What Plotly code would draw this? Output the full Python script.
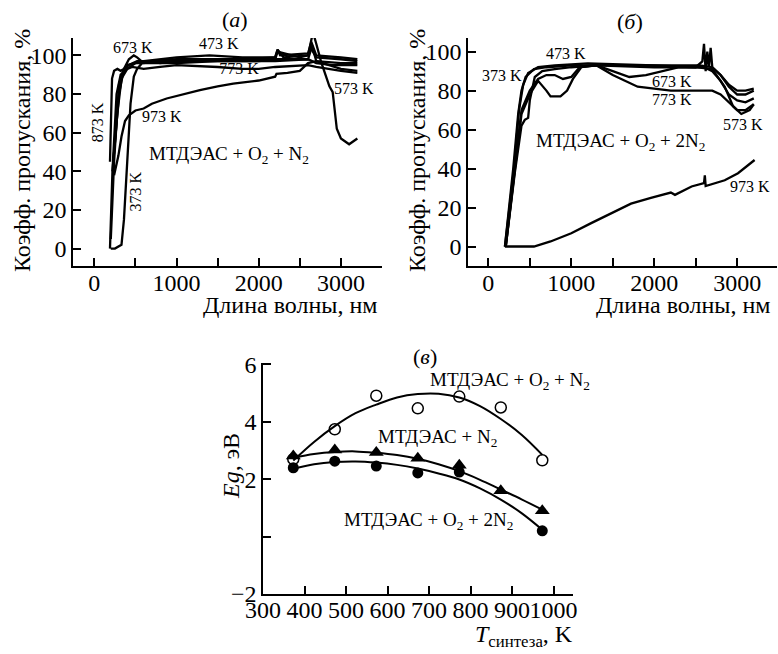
import plotly.graph_objects as go

FONT = "Liberation Serif"

# ---------------- Panel (а): МТДЭАС + O2 + N2 ----------------
a_373_wl = [200, 250, 330, 360, 400, 440, 480, 520, 600, 700, 800, 1000, 1400, 1800, 2200, 2230, 2300, 2600, 2630, 2700, 3000, 3200]
a_373_t = [0, 0, 2, 15, 45, 75, 89, 93, 97, 97, 96, 97, 98, 98, 99, 103, 99, 100, 104, 99, 98, 97]
a_473_wl = [190, 220, 270, 320, 400, 500, 600, 800, 1000, 1400, 1800, 2200, 2230, 2260, 2600, 2640, 2700, 3000, 3200]
a_473_t = [0, 40, 80, 90, 93, 96, 97, 98, 99, 100, 99, 99, 103, 100, 101, 107, 100, 99, 98]
a_573_wl = [200, 240, 300, 350, 420, 520, 700, 1000, 1500, 2000, 2200, 2230, 2500, 2600, 2660, 2700, 2760, 2860, 2900, 2950, 3000, 3100, 3200]
a_573_t = [5, 45, 85, 92, 95, 97, 97, 98, 98, 98, 98, 102, 99, 100, 112, 106, 96.5, 84, 81, 62, 57, 54, 57]
a_673_wl = [220, 260, 300, 360, 420, 480, 520, 600, 800, 1000, 1500, 2000, 2200, 2600, 2650, 2700, 3000, 3200]
a_673_t = [40, 60, 80, 93, 98, 100, 99, 96, 97, 97, 97, 97, 98, 98, 105, 97, 93, 92]
a_773_wl = [230, 280, 330, 400, 460, 600, 800, 1000, 1500, 1800, 2000, 2200, 2600, 2700, 3000, 3200]
a_773_t = [45, 70, 88, 93, 94, 93, 94, 95, 94, 93, 93, 94, 95, 94, 92, 91]
a_873_wl = [190, 200, 215, 240, 280, 320, 360, 400, 500, 700, 1000, 1500, 2000, 2200, 2600, 2700, 2900, 3200]
a_873_t = [45, 60, 88, 92, 93, 92, 93, 95, 96, 96, 96, 97, 97, 97, 98, 96, 95, 95]
a_973_wl = [240, 270, 292, 330, 373, 420, 500, 600, 700, 880, 1000, 1284, 1500, 1690, 2000, 2095, 2200, 2216, 2350, 2500, 2600, 2700, 3000, 3200]
a_973_t = [38, 43, 48, 58, 66, 69, 71.5, 72.5, 75, 77.7, 79, 82, 84, 85.4, 87, 88, 89, 90.5, 91, 92, 96, 97, 96, 96]

# ---------------- Panel (б): МТДЭАС + O2 + 2N2 ----------------
b_373_wl = [200, 300, 360, 400, 450, 550, 700, 1000, 1500, 2000, 2500, 2580, 2600, 2620, 2640, 2660, 2680, 2700, 2800, 2900, 3000, 3100, 3200]
b_373_t = [0, 40, 68, 80, 87, 91, 92, 93, 93, 93, 92, 95, 104, 90, 100, 92, 102, 92, 88, 83, 80, 80, 81]
b_473_wl = [200, 310, 370, 420, 480, 600, 800, 1200, 2000, 2550, 2700, 2800, 2900, 3000, 3100, 3200]
b_473_t = [0, 40, 70, 83, 89, 92, 93, 94, 93, 93, 92, 88, 82, 78, 78, 80]
b_573_wl = [210, 320, 400, 440, 480, 500, 560, 650, 800, 1000, 1300, 2000, 2500, 2700, 2850, 2950, 3050, 3150, 3200]
b_573_t = [0, 38, 62, 65, 66, 75, 87, 90, 91, 92, 93, 92, 92, 91, 82, 72, 68, 70, 73]
b_673_wl = [210, 320, 400, 500, 600, 700, 800, 900, 1000, 1100, 1300, 1500, 1700, 1900, 2100, 2300, 2600, 2700, 2800, 2900, 3000, 3100, 3200]
b_673_t = [0, 40, 70, 80, 86, 88, 88, 86, 87, 92, 93, 90, 87, 88, 90, 92, 92, 90, 85, 78, 75, 74, 76]
b_773_wl = [210, 320, 400, 500, 600, 700, 750, 870, 950, 1020, 1120, 1300, 1500, 1800, 2200, 2600, 2700, 2800, 2900, 3000, 3100, 3200]
b_773_t = [0, 40, 68, 78, 85, 80, 77, 77, 80, 86, 92, 93, 88, 82, 80, 80, 80, 78, 74, 70, 70, 73]
b_973_wl = [200, 550, 750, 1000, 1240, 1480, 1720, 1960, 2200, 2250, 2450, 2600, 2610, 2620, 2850, 3010, 3210]
b_973_t = [0, 0, 2.6, 6.8, 12, 17, 22, 25, 27.7, 26.5, 30.8, 32.5, 36.5, 31, 34, 37.6, 44.4]

# ---------------- Panel (в): Eg vs synthesis temperature ----------------
t_synth = [373, 473, 573, 673, 773, 873, 973]
eg_o2_n2 = [2.7, 3.74, 4.91, 4.47, 4.88, 4.5, 2.66]
eg_n2 = [2.81, 3.02, 2.93, 2.73, 2.49, 1.60, 0.9]
t_synth_2n2 = [373, 473, 573, 673, 773, 973]
eg_o2_2n2 = [2.40, 2.63, 2.46, 2.22, 2.25, 0.2]

fit_t = [373, 423, 473, 523, 573, 623, 673, 723, 773, 823, 873, 923, 973]
fit_o2_n2 = [2.65, 3.3, 3.85, 4.3, 4.6, 4.85, 4.97, 4.98, 4.85, 4.55, 4.1, 3.55, 2.85]
fit_n2 = [2.75, 2.88, 2.95, 2.97, 2.92, 2.84, 2.71, 2.52, 2.28, 1.98, 1.64, 1.3, 0.94]
fit_o2_2n2 = [2.36, 2.52, 2.6, 2.62, 2.58, 2.5, 2.37, 2.2, 1.99, 1.68, 1.29, 0.82, 0.24]

fig = go.Figure()

# label partly hidden under the curves
fig.add_trace(go.Scatter(x=[1760], y=[92.3], mode="text", text=["773 K"],
                         textfont=dict(family=FONT, size=16, color="black"),
                         xaxis="x", yaxis="y", showlegend=False))

line_a = dict(color="black", width=2.3)
for wl, t in [(a_373_wl, a_373_t), (a_473_wl, a_473_t), (a_573_wl, a_573_t),
              (a_673_wl, a_673_t), (a_773_wl, a_773_t), (a_873_wl, a_873_t),
              (a_973_wl, a_973_t)]:
    fig.add_trace(go.Scatter(x=wl, y=t, mode="lines", line=line_a,
                             xaxis="x", yaxis="y", showlegend=False))

for wl, t in [(b_373_wl, b_373_t), (b_473_wl, b_473_t), (b_573_wl, b_573_t),
              (b_673_wl, b_673_t), (b_773_wl, b_773_t), (b_973_wl, b_973_t)]:
    fig.add_trace(go.Scatter(x=wl, y=t, mode="lines", line=line_a,
                             xaxis="x2", yaxis="y2", showlegend=False))

for ft, fv in [(fit_t, fit_o2_n2), (fit_t, fit_n2), (fit_t, fit_o2_2n2)]:
    fig.add_trace(go.Scatter(x=ft, y=fv, mode="lines",
                             line=dict(color="black", width=2, shape="spline", smoothing=1.0),
                             xaxis="x3", yaxis="y3", showlegend=False))

fig.add_trace(go.Scatter(x=t_synth, y=eg_o2_n2, mode="markers",
                         marker=dict(symbol="circle-open", size=11, color="black", line=dict(width=1.5)),
                         xaxis="x3", yaxis="y3", showlegend=False))
fig.add_trace(go.Scatter(x=t_synth, y=eg_n2, mode="markers",
                         marker=dict(symbol="triangle-up", size=13, color="black"),
                         xaxis="x3", yaxis="y3", showlegend=False))
fig.add_trace(go.Scatter(x=t_synth_2n2, y=eg_o2_2n2, mode="markers",
                         marker=dict(symbol="circle", size=11, color="black"),
                         xaxis="x3", yaxis="y3", showlegend=False))

W, H = 778, 654


def px(x):
    return x / W


def py(y):
    return 1 - y / H


axis_common = dict(showline=True, linecolor="black", linewidth=1.5, ticks="inside",
                   ticklen=8, tickwidth=1.5, tickcolor="black", showgrid=False,
                   zeroline=False, mirror=False, automargin=False, tickangle=0,
                   tickfont=dict(family=FONT, size=24, color="black"))

fig.update_layout(
    width=W, height=H, margin=dict(l=0, r=0, t=0, b=0, autoexpand=False),
    paper_bgcolor="white", plot_bgcolor="white", showlegend=False,
    xaxis=dict(axis_common, domain=[px(73), px(382)], range=[-260, 3500],
               tickvals=[0, 500, 1000, 1500, 2000, 2500, 3000, 3500],
               ticktext=["0", "", "1000", "", "2000", "", "3000", ""], anchor="y",
               ticklabelstandoff=-6),
    yaxis=dict(axis_common, domain=[py(266), py(38)], range=[-9, 109],
               tickvals=[0, 20, 40, 60, 80, 100], anchor="x"),
    xaxis2=dict(axis_common, domain=[px(468), px(777)], range=[-245, 3480],
                tickvals=[0, 500, 1000, 1500, 2000, 2500, 3000, 3500],
                ticktext=["0", "", "1000", "", "2000", "", "3000", ""], anchor="y2",
                ticklabelstandoff=-6),
    yaxis2=dict(axis_common, domain=[py(266), py(38)], range=[-10, 107],
                tickvals=[0, 20, 40, 60, 80, 100], anchor="x2"),
    xaxis3=dict(axis_common, domain=[px(263), px(573)], range=[300, 1047],
                tickvals=[300, 400, 500, 600, 700, 800, 900, 1000], anchor="y3",
                ticklabelstandoff=-7),
    yaxis3=dict(axis_common, domain=[py(594), py(363)], range=[-2, 6.05],
                tickvals=[-2, 0, 2, 4, 6], ticktext=["\u22122", "", "2", "4", "6"], anchor="x3"),
)

ann = []


def add(text, x, y, xref="paper", yref="paper", size=16, angle=0, xanchor="center"):
    ann.append(dict(text=text, x=x, y=y, xref=xref, yref=yref, showarrow=False,
                    font=dict(family=FONT, size=size, color="black"), textangle=angle,
                    xanchor=xanchor, yanchor="middle"))


# panel titles
add("(<i>а</i>)", px(235), py(20), size=22)
add("(<i>б</i>)", px(630), py(22), size=22)
add("(<i>в</i>)", px(425), py(356), size=22)

# axis titles
add("Длина волны, нм", px(290), py(305), size=24)
add("Длина волны, нм", px(683), py(305), size=24)
add("Коэфф. пропускания, %", px(22), py(151), size=24, angle=-90)
add("Коэфф. пропускания, %", px(417), py(151), size=24, angle=-90)
add("<i>Eg</i>, эВ", px(231), py(466), size=24, angle=-90)
add("<i>T</i><sub>синтеза</sub>, K", px(575), py(636), size=24, xanchor="right")

# panel (а) labels
add("673 K", 465, 104.3, "x", "y")
add("473 K", 1516, 106, "x", "y")
add("573 K", 3155, 82.8, "x", "y")
add("973 K", 829, 68.2, "x", "y")
add("873 K", 48, 65.6, "x", "y", angle=-90)
add("373 K", 505, 29.5, "x", "y", angle=-90)
add("МТДЭАС + O<sub>2</sub> + N<sub>2</sub>", 1640, 48.5, "x", "y", size=19)

# panel (б) labels
add("473 K", 931, 99.3, "x2", "y2")
add("373 K", 166, 88, "x2", "y2")
add("673 K", 2220, 84.5, "x2", "y2")
add("773 K", 2217, 75.2, "x2", "y2")
add("573 K", 3070, 62.4, "x2", "y2")
add("973 K", 3149, 31, "x2", "y2")
add("МТДЭАС + O<sub>2</sub> + 2N<sub>2</sub>", 1594, 53.8, "x2", "y2", size=19)

# panel (в) labels
add("МТДЭАС + O<sub>2</sub> + N<sub>2</sub>", px(510), py(381), size=19)
add("МТДЭАС + N<sub>2</sub>", px(437), py(438), size=19)
add("МТДЭАС + O<sub>2</sub> + 2N<sub>2</sub>", px(428), py(521), size=19)

fig.update_layout(annotations=ann)

fig.write_html("out.html",
               config={"displayModeBar": False},
               post_script="document.body.style.margin='0';document.body.style.padding='0';")
